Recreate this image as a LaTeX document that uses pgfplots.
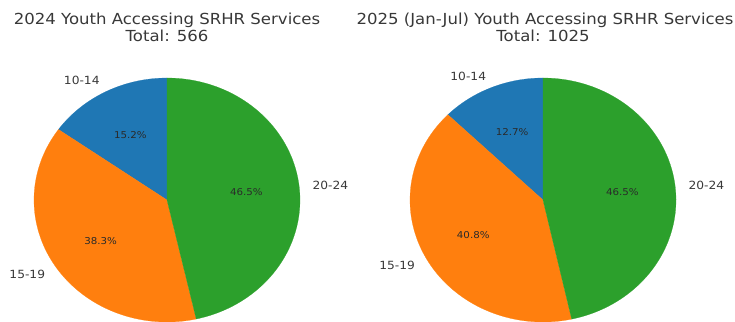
\documentclass[border=0pt]{standalone}
\usepackage{fontspec}
\setmainfont{DejaVu Sans}
\usepackage{graphicx}
\usepackage{pgfplots}
\pgfplotsset{compat=1.18}
\definecolor{tabblue}{HTML}{1F77B4}
\definecolor{taborange}{HTML}{FF7F0E}
\definecolor{tabgreen}{HTML}{2CA02C}
\definecolor{txt}{HTML}{383838}
\definecolor{ptxt}{HTML}{2A2A2A}
\newcommand\sq[1]{\scalebox{1}[0.92]{#1}}
\tikzset{
  ttl/.style={anchor=base, inner sep=0pt, text=txt, font=\fontsize{16.6}{20}\selectfont},
  lbl/.style={inner sep=0pt, text=txt, font=\fontsize{12.3}{14}\selectfont},
  pct/.style={inner sep=0pt, text=ptxt, font=\fontsize{10.3}{12}\selectfont},
}
\begin{document}
\begin{tikzpicture}
% counts: 10-14, 15-19, 20-24
\def\LA{86}\def\LB{217}\def\LC{263}     % 2024, total 566
\def\RA{130}\def\RB{418}\def\RC{477}    % 2025 Jan-Jul, total 1025
\def\Lx{167}\def\Rx{543}\def\cy{122}\def\rx{133}\def\ry{122}
\pgfmathsetmacro\Lt{\LA+\LB+\LC}
\pgfmathsetmacro\Lb{90+360*(\LA/\Lt)}
\pgfmathsetmacro\Lc{\Lb+360*(\LB/\Lt)}
\pgfmathsetmacro\Lma{(90+\Lb)/2}
\pgfmathsetmacro\Lmb{(\Lb+\Lc)/2}
\pgfmathsetmacro\Lmc{(\Lc+450)/2}
\pgfmathsetmacro\Rt{\RA+\RB+\RC}
\pgfmathsetmacro\Rb{90+360*(\RA/\Rt)}
\pgfmathsetmacro\Rc{\Rb+360*(\RB/\Rt)}
\pgfmathsetmacro\Rma{(90+\Rb)/2}
\pgfmathsetmacro\Rmb{(\Rb+\Rc)/2}
\pgfmathsetmacro\Rmc{(\Rc+450)/2}
\begin{axis}[
  width=735bp, height=322bp, scale only axis,
  xmin=0, xmax=735, ymin=0, ymax=322,
  hide axis, clip=false,
]
% left pie
\addplot[fill=tabblue, draw=tabblue, line width=0.2pt, domain=90:\Lb, samples=60] ({\Lx+\rx*cos(x)},{\cy+\ry*sin(x)}) -- (axis cs:\Lx,\cy) -- cycle;
\addplot[fill=taborange, draw=taborange, line width=0.2pt, domain=\Lb:\Lc, samples=100] ({\Lx+\rx*cos(x)},{\cy+\ry*sin(x)}) -- (axis cs:\Lx,\cy) -- cycle;
\addplot[fill=tabgreen, draw=tabgreen, line width=0.2pt, domain=\Lc:450, samples=100] ({\Lx+\rx*cos(x)},{\cy+\ry*sin(x)}) -- (axis cs:\Lx,\cy) -- cycle;
% right pie
\addplot[fill=tabblue, draw=tabblue, line width=0.2pt, domain=90:\Rb, samples=60] ({\Rx+\rx*cos(x)},{\cy+\ry*sin(x)}) -- (axis cs:\Rx,\cy) -- cycle;
\addplot[fill=taborange, draw=taborange, line width=0.2pt, domain=\Rb:\Rc, samples=100] ({\Rx+\rx*cos(x)},{\cy+\ry*sin(x)}) -- (axis cs:\Rx,\cy) -- cycle;
\addplot[fill=tabgreen, draw=tabgreen, line width=0.2pt, domain=\Rc:450, samples=100] ({\Rx+\rx*cos(x)},{\cy+\ry*sin(x)}) -- (axis cs:\Rx,\cy) -- cycle;

% titles
\node[ttl] at (axis cs:\Lx,297) {\sq{2024 Youth Accessing SRHR Services}};
\node[ttl] at (axis cs:\Lx,280) {\sq{Total: 566}};
\node[ttl] at (axis cs:{\Rx+2},297) {\sq{2025 (Jan-Jul) Youth Accessing SRHR Services}};
\node[ttl] at (axis cs:\Rx,280) {\sq{Total: 1025}};

% category labels
\node[lbl, anchor=east] at (axis cs:{\Lx+1.1*\rx*cos(\Lma)},{\cy+1.1*\ry*sin(\Lma)}) {\sq{10-14}};
\node[lbl, anchor=east] at (axis cs:{\Lx+1.1*\rx*cos(\Lmb)},{\cy+1.1*\ry*sin(\Lmb)}) {\sq{15-19}};
\node[lbl, anchor=west] at (axis cs:{\Lx+1.1*\rx*cos(\Lmc)},{\cy+1.1*\ry*sin(\Lmc)}) {\sq{20-24}};
\node[lbl, anchor=east] at (axis cs:{\Rx+1.1*\rx*cos(\Rma)},{\cy+1.1*\ry*sin(\Rma)}) {\sq{10-14}};
\node[lbl, anchor=east] at (axis cs:{\Rx+1.1*\rx*cos(\Rmb)},{\cy+1.1*\ry*sin(\Rmb)}) {\sq{15-19}};
\node[lbl, anchor=west] at (axis cs:{\Rx+1.1*\rx*cos(\Rmc)},{\cy+1.1*\ry*sin(\Rmc)}) {\sq{20-24}};

% percentages
\node[pct] at (axis cs:{\Lx+0.6*\rx*cos(\Lma)},{\cy+0.6*\ry*sin(\Lma)}) {\sq{15.2\%}};
\node[pct] at (axis cs:{\Lx+0.6*\rx*cos(\Lmb)},{\cy+0.6*\ry*sin(\Lmb)}) {\sq{38.3\%}};
\node[pct] at (axis cs:{\Lx+0.6*\rx*cos(\Lmc)},{\cy+0.6*\ry*sin(\Lmc)}) {\sq{46.5\%}};
\node[pct] at (axis cs:{\Rx+0.6*\rx*cos(\Rma)},{\cy+0.6*\ry*sin(\Rma)}) {\sq{12.7\%}};
\node[pct] at (axis cs:{\Rx+0.6*\rx*cos(\Rmb)},{\cy+0.6*\ry*sin(\Rmb)}) {\sq{40.8\%}};
\node[pct] at (axis cs:{\Rx+0.6*\rx*cos(\Rmc)},{\cy+0.6*\ry*sin(\Rmc)}) {\sq{46.5\%}};
\end{axis}
\pgfresetboundingbox
\path (0,0) rectangle (735bp,322bp);
\end{tikzpicture}
\end{document}
